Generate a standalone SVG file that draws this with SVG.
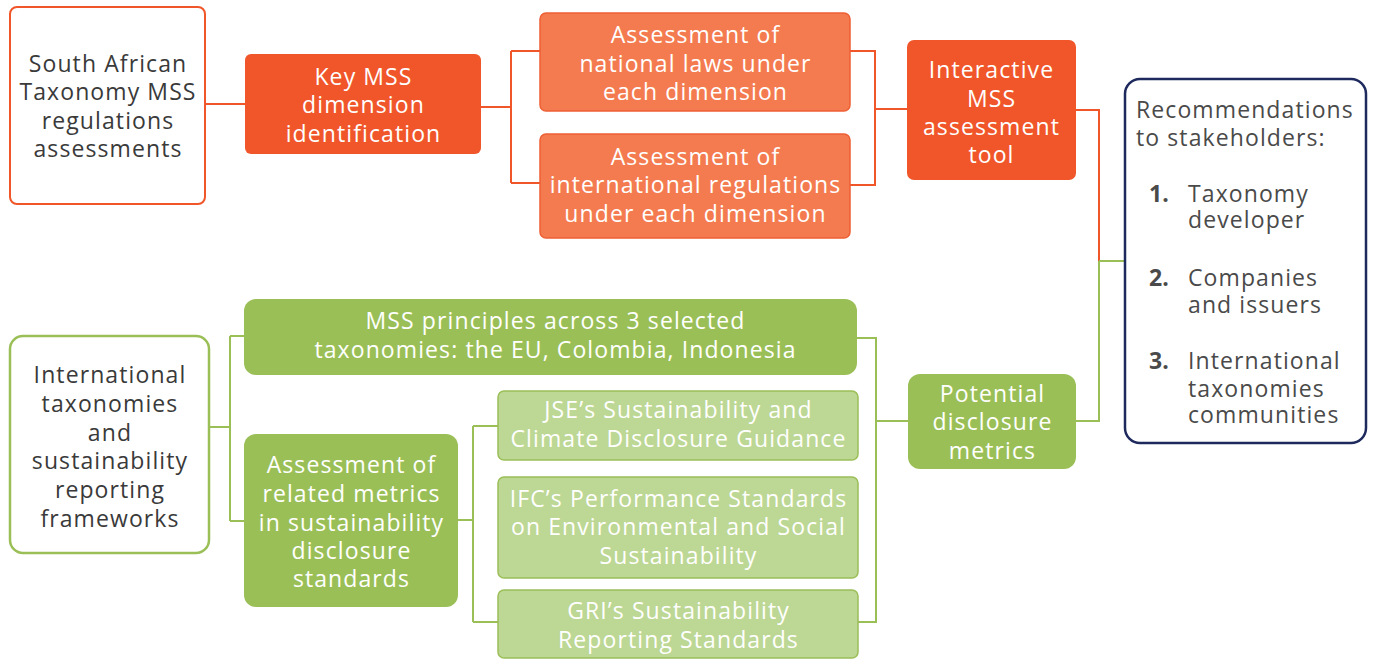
<svg xmlns="http://www.w3.org/2000/svg" width="1373" height="659" viewBox="0 0 1373 659">
<style>
text{font-family:"Open Sans",Lato,"Liberation Sans",sans-serif;font-size:23px;letter-spacing:1.1px;text-anchor:middle}
.dk{fill:#3a3a3a}
.wt{fill:#ffffff}
.gy{fill:#4a4a4a;text-anchor:start}
.num{fill:#4a4a4a;font-weight:bold;text-anchor:start;letter-spacing:0}
.or{fill:#F0562A}
.orl{fill:#F47B4F;stroke:#EE5F34;stroke-width:1.5}
.gr{fill:#9BBF57}
.grl{fill:#BDD794;stroke:#9BBF57;stroke-width:1.5}
.co{fill:none;stroke:#F0562A;stroke-width:2}
.cg{fill:none;stroke:#9BBF57;stroke-width:2}
</style>
<g id="connectors">
<path class="co" d="M205 104H245"/>
<path class="co" d="M481 107H511M511 51V183M511 51H540M511 183H540"/>
<path class="co" d="M850 51H875V185H850M875 109H907"/>
<path class="co" d="M1076 110H1099V261"/>
<path class="cg" d="M1099 261V421H1076M1099 261H1125"/>
<path class="cg" d="M209 427H230M230 336V521M230 336H244M230 521H244"/>
<path class="cg" d="M458 520H473M473 426V622M473 426H498M473 622H498"/>
<path class="cg" d="M857 338H876V622H858M876 421H908"/>
</g>
<g id="n1">
<rect x="10" y="7" width="195" height="197" rx="7" fill="#fff" stroke="#F0562A" stroke-width="2"/>
<text class="dk"><tspan x="108" y="72">South African</tspan><tspan x="108" y="100">Taxonomy MSS</tspan><tspan x="108" y="129">regulations</tspan><tspan x="108" y="157">assessments</tspan></text>
</g>
<g id="n2">
<rect x="245" y="54" width="236" height="100" rx="6" class="or"/>
<text class="wt"><tspan x="363.5" y="85">Key MSS</tspan><tspan x="363.5" y="113">dimension</tspan><tspan x="363.5" y="142">identification</tspan></text>
</g>
<g id="n3">
<rect x="540" y="13" width="310" height="98" rx="6" class="orl"/>
<text class="wt"><tspan x="695.5" y="43">Assessment of</tspan><tspan x="695.5" y="72">national laws under</tspan><tspan x="695.5" y="100">each dimension</tspan></text>
</g>
<g id="n4">
<rect x="540" y="134" width="310" height="104" rx="6" class="orl"/>
<text class="wt"><tspan x="695.5" y="165">Assessment of</tspan><tspan x="695.5" y="193">international regulations</tspan><tspan x="695.5" y="222">under each dimension</tspan></text>
</g>
<g id="n5">
<rect x="907" y="40" width="169" height="140" rx="7" class="or"/>
<text class="wt"><tspan x="991.5" y="78">Interactive</tspan><tspan x="991.5" y="107">MSS</tspan><tspan x="991.5" y="135">assessment</tspan><tspan x="991.5" y="163">tool</tspan></text>
</g>
<g id="n6">
<rect x="1125" y="79" width="241" height="364" rx="15" fill="#fff" stroke="#1E2A5E" stroke-width="2.5"/>
<text class="gy"><tspan x="1136" y="118">Recommendations</tspan><tspan x="1136" y="146">to stakeholders:</tspan></text>
<text class="num" x="1149" y="202">1.</text>
<text class="gy"><tspan x="1188" y="202">Taxonomy</tspan><tspan x="1188" y="228">developer</tspan></text>
<text class="num" x="1149" y="286">2.</text>
<text class="gy"><tspan x="1188" y="286">Companies</tspan><tspan x="1188" y="313">and issuers</tspan></text>
<text class="num" x="1149" y="369">3.</text>
<text class="gy"><tspan x="1188" y="369">International</tspan><tspan x="1188" y="397">taxonomies</tspan><tspan x="1188" y="423">communities</tspan></text>
</g>
<g id="n7">
<rect x="10" y="336" width="199" height="217" rx="13" fill="#fff" stroke="#9BBF57" stroke-width="2.5"/>
<text class="dk"><tspan x="110" y="383">International</tspan><tspan x="110" y="412">taxonomies</tspan><tspan x="110" y="441">and</tspan><tspan x="110" y="469">sustainability</tspan><tspan x="110" y="498">reporting</tspan><tspan x="110" y="527">frameworks</tspan></text>
</g>
<g id="n8">
<rect x="244" y="299" width="613" height="76" rx="12" class="gr"/>
<text class="wt"><tspan x="555.5" y="329">MSS principles across 3 selected</tspan><tspan x="555.5" y="358">taxonomies: the EU, Colombia, Indonesia</tspan></text>
</g>
<g id="n9">
<rect x="244" y="434" width="214" height="173" rx="12" class="gr"/>
<text class="wt"><tspan x="351.5" y="473">Assessment of</tspan><tspan x="351.5" y="502">related metrics</tspan><tspan x="351.5" y="531">in sustainability</tspan><tspan x="351.5" y="559">disclosure</tspan><tspan x="351.5" y="587">standards</tspan></text>
</g>
<g id="n10">
<rect x="498" y="391" width="360" height="69" rx="6" class="grl"/>
<text class="wt"><tspan x="678.5" y="418">JSE’s Sustainability and</tspan><tspan x="678.5" y="447">Climate Disclosure Guidance</tspan></text>
</g>
<g id="n11">
<rect x="498" y="477" width="360" height="101" rx="6" class="grl"/>
<text class="wt"><tspan x="678.5" y="507">IFC’s Performance Standards</tspan><tspan x="678.5" y="535">on Environmental and Social</tspan><tspan x="678.5" y="564">Sustainability</tspan></text>
</g>
<g id="n12">
<rect x="498" y="590" width="360" height="68" rx="6" class="grl"/>
<text class="wt"><tspan x="678.5" y="619">GRI’s Sustainability</tspan><tspan x="678.5" y="648">Reporting Standards</tspan></text>
</g>
<g id="n13">
<rect x="908" y="374" width="168" height="95" rx="12" class="gr"/>
<text class="wt"><tspan x="992.5" y="402">Potential</tspan><tspan x="992.5" y="430">disclosure</tspan><tspan x="992.5" y="459">metrics</tspan></text>
</g>
</svg>
